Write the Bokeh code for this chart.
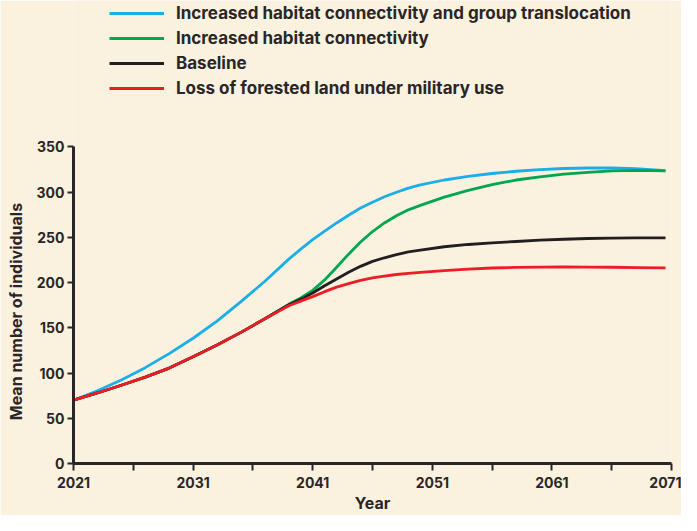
from bokeh.plotting import figure
from bokeh.models import Range1d, FixedTicker, Legend, LegendItem
from bokeh.embed import file_html
from bokeh.resources import INLINE

years = [2021, 2023, 2025, 2027, 2029, 2031, 2033, 2035, 2037, 2039, 2040, 2041,
         2042, 2043, 2044, 2045, 2046, 2047, 2048, 2049, 2050, 2052, 2054, 2056, 2058,
         2060, 2062, 2064, 2066, 2068, 2070.5]

connectivity_translocation = [70, 80.5, 92.4, 106, 121.5, 138.5, 157.5, 179, 201.5, 226, 237, 247.5,
                              257, 266, 274.5, 282.5, 289, 295, 300, 304.5, 308, 313.5, 317.5, 320.7,
                              323.2, 325, 326.2, 326.8, 327, 326, 323.8]
connectivity = [70, 78, 86.5, 95.5, 105.5, 118, 131, 145, 160, 176, 183, 191.5,
                203, 217, 231.5, 245, 256.5, 266, 274, 280.5, 285.5, 294.5, 302, 308.3,
                313.5, 317, 320, 322, 323.5, 324.2, 323.6]
baseline = [70, 78, 86.5, 95.5, 105.5, 118, 131, 145, 160, 175.5, 181.5, 188.5,
            196.5, 204, 211.5, 218, 223.5, 227.5, 231, 234, 236, 239.7, 242.2, 244, 245.5,
            247, 248, 248.8, 249.3, 249.5, 249.5]
forest_loss = [70, 78, 86.5, 95.5, 105.5, 118, 131, 145, 160, 174.5, 179.5, 184.5,
               190, 195, 199, 202.5, 205.3, 207.3, 209, 210.3, 211.3, 213.3, 215, 216.2,
               216.8, 217.2, 217.3, 217.2, 217, 216.7, 216.3]

series_names = ["Increased habitat connectivity and group translocation",
                "Increased habitat connectivity",
                "Baseline",
                "Loss of forested land under military use"]
series_values = [connectivity_translocation, connectivity, baseline, forest_loss]
series_colors = ["#1BAEE8", "#00A651", "#231F20", "#EE1C25"]

x_major = [2021, 2031, 2041, 2051, 2061, 2071]
x_minor = [2026, 2036, 2046, 2056, 2066]
y_major = [0, 50, 100, 150, 200, 250, 300, 350]
y_axis_max = 350

x_title = "Year"
y_title = "Mean number of individuals"

BG = "#FAF1DF"
INK = "#2A2627"
FONT = "Inter"

p = figure(width=681, height=515, output_backend="svg", toolbar_location=None,
           x_range=Range1d(2021, 2071), y_range=Range1d(0, 512),
           min_border_left=73, min_border_right=10, min_border_top=0,
           min_border_bottom=50)
p.background_fill_color = BG
p.border_fill_color = BG
p.outline_line_color = None
p.xgrid.visible = False
p.ygrid.visible = False

renderers = []
for vals, col in zip(series_values, series_colors):
    r = p.line(years, vals, line_color=col, line_width=2.8)
    renderers.append(r)

items = [LegendItem(label=n, renderers=[r]) for n, r in zip(series_names, renderers)]
legend = Legend(items=items, location=(36, 365), padding=0, margin=0,
                glyph_width=55, glyph_height=20, label_height=20, spacing=5,
                label_standoff=12, border_line_alpha=0, background_fill_alpha=0,
                label_text_font=FONT, label_text_font_style="bold",
                label_text_font_size="17px", label_text_color=INK)
p.add_layout(legend, "center")

xa = p.xaxis[0]
xa.ticker = FixedTicker(ticks=x_major, minor_ticks=x_minor)
xa.axis_label = x_title
ya = p.yaxis[0]
ya.ticker = FixedTicker(ticks=y_major)
ya.bounds = (0, y_axis_max)
# trailing no-break spaces centre the title on the 0-350 part of the axis
ya.axis_label = y_title + "\u00a0" * 42

for ax in (xa, ya):
    ax.axis_line_color = INK
    ax.axis_line_width = 3
    ax.major_tick_line_color = INK
    ax.major_tick_line_width = 2
    ax.major_tick_in = 0
    ax.minor_tick_line_color = INK
    ax.minor_tick_line_width = 2
    ax.minor_tick_in = 0
    ax.major_label_text_font = FONT
    ax.major_label_text_font_style = "bold"
    ax.major_label_text_font_size = "14px"
    ax.major_label_text_color = INK
    ax.axis_label_text_font = FONT
    ax.axis_label_text_font_style = "bold"
    ax.axis_label_text_font_size = "16px"
    ax.axis_label_text_color = INK

xa.major_tick_out = 7
xa.minor_tick_out = 7
xa.major_label_standoff = 6
xa.axis_label_standoff = 2
ya.major_tick_out = 6
ya.minor_tick_out = 0
ya.major_label_standoff = 3
ya.axis_label_standoff = 8

open("out.html", "w").write(file_html(p, INLINE))
